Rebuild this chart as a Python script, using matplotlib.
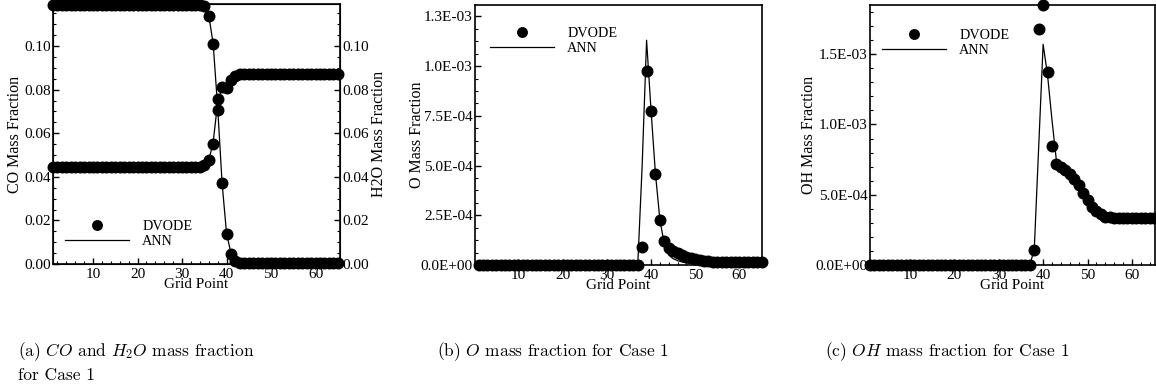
import numpy as np
import matplotlib.pyplot as plt
from matplotlib.ticker import MultipleLocator, FixedLocator, FixedFormatter, FormatStrFormatter

plt.rcParams["font.family"] = "Liberation Serif"
plt.rcParams["mathtext.fontset"] = "cm"

grid = np.arange(1, 66)

# panel (a): CO and H2O
co_dvode = [0.1190] * 34 + [0.1185, 0.1140, 0.1008, 0.0705, 0.0370, 0.0137, 0.0048, 0.0012, 0.0006] + [0.0004] * 22
co_ann = [0.1190] * 34 + [0.1186, 0.1142, 0.1010, 0.0720, 0.0372, 0.0140, 0.0050, 0.0013, 0.0006] + [0.0004] * 22
h2o_dvode = [0.0445] * 34 + [0.0452, 0.0475, 0.0552, 0.0755, 0.0812, 0.0808, 0.0843, 0.0863, 0.0870] + [0.0873] * 22
h2o_ann = [0.0445] * 34 + [0.0451, 0.0472, 0.0560, 0.0740, 0.0810, 0.0812, 0.0842, 0.0862, 0.0870] + [0.0873] * 22

# panel (b): O
o_dvode = [0.0] * 37 + [9.2e-5, 9.75e-4, 7.75e-4, 4.56e-4, 2.24e-4, 1.21e-4, 8.6e-5, 7.0e-5, 5.8e-5,
                        4.9e-5, 4.0e-5, 3.3e-5, 2.8e-5, 2.4e-5, 2.1e-5, 1.9e-5, 1.7e-5] + [1.6e-5] * 11
o_ann = [0.0] * 37 + [5.0e-4, 1.13e-3, 7.8e-4, 4.6e-4, 2.3e-4, 1.05e-4, 5.0e-5, 3.2e-5, 2.2e-5,
                      1.5e-5, 1.1e-5, 8e-6, 7e-6, 7e-6, 8e-6, 9e-6, 1.0e-5] + [1.1e-5] * 11
o_ticks = [0.0, 2.5e-4, 5.0e-4, 7.5e-4, 1.0e-3, 1.25e-3]
o_ticklabels = ["0.0E+00", "2.5E-04", "5.0E-04", "7.5E-04", "1.0E-03", "1.3E-03"]

# panel (c): OH
oh_dvode = [0.0] * 37 + [1.07e-4, 1.68e-3, 1.85e-3, 1.37e-3, 8.5e-4, 7.2e-4, 6.95e-4, 6.75e-4, 6.5e-4,
                         6.15e-4, 5.7e-4, 5.15e-4, 4.6e-4, 4.15e-4, 3.85e-4, 3.6e-4, 3.45e-4, 3.38e-4] + [3.33e-4] * 10
oh_ann = [0.0] * 37 + [1.1e-4, 8.4e-4, 1.57e-3, 1.35e-3, 1.03e-3, 7.4e-4, 7.0e-4, 6.7e-4, 6.4e-4,
                       6.0e-4, 5.5e-4, 5.0e-4, 4.5e-4, 4.1e-4, 3.8e-4, 3.55e-4, 3.42e-4, 3.36e-4] + [3.33e-4] * 10

W, H = 1156, 392
fig = plt.figure(figsize=(W / 100, H / 100), dpi=100)


def box(left, top, right, bottom):
    return [left / W, (H - bottom) / H, (right - left) / W, (bottom - top) / H]


def style(ax, xmin, xmax):
    ax.set_xlim(xmin, xmax)
    ax.xaxis.set_major_locator(MultipleLocator(10))
    ax.xaxis.set_minor_locator(MultipleLocator(2))
    ax.tick_params(which="both", direction="in", top=False, right=False, labelsize=11)
    ax.tick_params(axis="x", pad=3)
    ax.tick_params(axis="y", pad=1.5)
    ax.tick_params(which="major", length=4, width=1)
    ax.tick_params(which="minor", length=2.5, width=0.8)
    for s in ax.spines.values():
        s.set_linewidth(1.2)
    ax.set_xlabel("Grid Point", fontsize=11, labelpad=-2.5)


def draw(ax, dvode, ann):
    ax.plot(grid, dvode, "o", color="black", ms=7.6, clip_on=False, zorder=3, label="DVODE")
    ax.plot(grid, ann, "-", color="black", lw=0.9, zorder=4, label="ANN")


def legend(ax, x, y):
    ax.legend(loc="center left", bbox_to_anchor=(x, y), frameon=False, fontsize=10.3,
              handlelength=4.5, handletextpad=0.9, labelspacing=0.15, borderpad=0,
              borderaxespad=0, markerscale=0.9)


# (a)
ax_a = fig.add_axes(box(53, 4, 340, 264))
style(ax_a, 1, 65.5)
draw(ax_a, co_dvode, co_ann)
ax_a.set_ylim(0, 0.1193)
ax_a.yaxis.set_major_locator(MultipleLocator(0.02))
ax_a.yaxis.set_minor_locator(MultipleLocator(0.005))
ax_a.yaxis.set_major_formatter(FormatStrFormatter("%.2f"))
ax_a.set_ylabel("CO Mass Fraction", fontsize=11.5, labelpad=1)
legend(ax_a, 0.042, 0.115)

ax_h = ax_a.twinx()
ax_h.plot(grid, h2o_dvode, "o", color="black", ms=7.6, clip_on=False, zorder=3)
ax_h.plot(grid, h2o_ann, "-", color="black", lw=0.9, zorder=4)
ax_h.set_ylim(0, 0.1193)
ax_h.yaxis.set_major_locator(MultipleLocator(0.02))
ax_h.yaxis.set_minor_locator(MultipleLocator(0.005))
ax_h.yaxis.set_major_formatter(FormatStrFormatter("%.2f"))
ax_h.tick_params(which="both", direction="in", labelsize=11, pad=1.5)
ax_h.tick_params(which="major", length=4, width=1)
ax_h.tick_params(which="minor", length=2.5, width=0.8)
ax_h.set_ylabel("H2O Mass Fraction", fontsize=11.5, labelpad=1.5)

# (b)
ax_b = fig.add_axes(box(475, 5, 762, 265))
style(ax_b, 0.2, 65.1)
draw(ax_b, o_dvode, o_ann)
ax_b.set_ylim(0, 1.307e-3)
ax_b.yaxis.set_major_locator(FixedLocator(o_ticks))
ax_b.yaxis.set_major_formatter(FixedFormatter(o_ticklabels))
ax_b.yaxis.set_minor_locator(MultipleLocator(6.25e-5))
ax_b.set_ylabel("O Mass Fraction", fontsize=11.5, labelpad=-3)
legend(ax_b, 0.052, 0.862)

# (c)
ax_c = fig.add_axes(box(870, 5, 1155, 265))
style(ax_c, 1, 65.2)
draw(ax_c, oh_dvode, oh_ann)
ax_c.set_ylim(0, 1.85e-3)
ax_c.yaxis.set_major_locator(MultipleLocator(5e-4))
ax_c.yaxis.set_minor_locator(MultipleLocator(1e-4))
ax_c.yaxis.set_major_formatter(FormatStrFormatter("%.1E"))
ax_c.set_ylabel("OH Mass Fraction", fontsize=11.5, labelpad=-1)
legend(ax_c, 0.042, 0.854)

# sub-captions
cap = dict(fontfamily="cmr10", fontsize=12.5, va="center", ha="left")
fig.text(18 / W, 1 - 352 / H, r"(a) $CO$ and $H_2O$ mass fraction", **cap)
fig.text(18 / W, 1 - 375 / H, "for Case 1", **cap)
fig.text(437 / W, 1 - 352 / H, r"(b) $O$ mass fraction for Case 1", **cap)
fig.text(825 / W, 1 - 352 / H, r"(c) $OH$ mass fraction for Case 1", **cap)

fig.savefig("out.png", dpi=100)
